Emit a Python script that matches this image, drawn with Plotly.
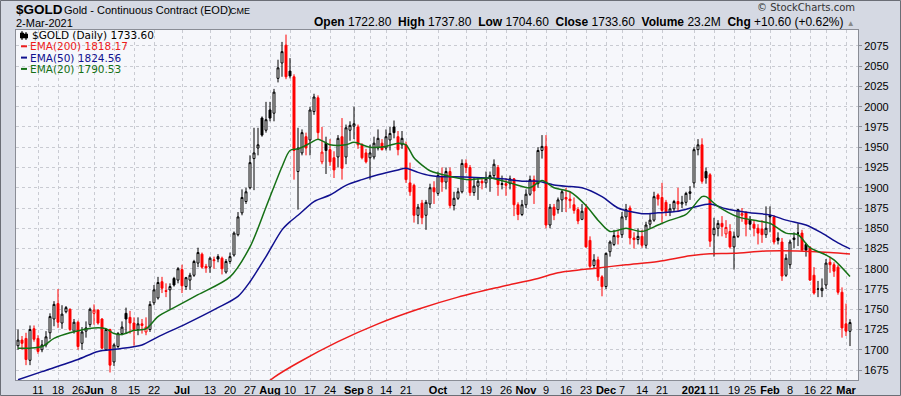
import plotly.graph_objects as go
import pandas as pd

# ---------------- data ----------------
holidays = ["2020-05-25", "2020-07-03", "2020-09-07", "2020-11-26", "2020-12-25",
            "2021-01-01", "2021-01-18", "2021-02-15"]
dates = [d.strftime("%Y-%m-%d") for d in pd.bdate_range("2020-05-04", "2021-03-02")
         if d.strftime("%Y-%m-%d") not in holidays]

open_ = [
    # May
    1705, 1712, 1714, 1687, 1726, 1714, 1700, 1706, 1721, 1738, 1757, 1733, 1747, 1750, 1723, 1734, 1708, 1723, 1731,
    # Jun
    1745, 1749, 1738, 1700, 1725, 1685, 1704, 1720, 1745, 1740, 1733, 1725, 1732, 1722, 1725, 1758, 1764, 1784, 1773, 1774, 1788, 1786,
    # Jul
    1799, 1778, 1786, 1792, 1807, 1818, 1803, 1802, 1810, 1815, 1813, 1796, 1809, 1817, 1842, 1869, 1883, 1900, 1936, 1949, 1986, 1971,
    # Aug
    1996, 1992, 2035, 2054, 2076, 2044, 2037, 1920, 1943, 1963, 1959, 1994, 2011, 1932, 1955, 1947, 1937, 1938, 1963, 1938, 1971,
    # Sep
    1976, 1975, 1953, 1943, 1937, 1938, 1949, 1955, 1949, 1959, 1975, 1963, 1953, 1953, 1906, 1903, 1866, 1881, 1866, 1880, 1900,
    # Oct
    1893, 1914, 1907, 1920, 1878, 1887, 1895, 1930, 1925, 1894, 1902, 1908, 1906, 1911, 1915, 1925, 1904, 1905, 1905, 1911, 1879, 1867,
    # Nov
    1879, 1892, 1910, 1905, 1946, 1951, 1854, 1876, 1873, 1885, 1888, 1886, 1879, 1873, 1861, 1875, 1835, 1804, 1811, 1790,
    # Dec
    1778, 1821, 1830, 1841, 1842, 1864, 1875, 1838, 1836, 1840, 1829, 1855, 1860, 1891, 1888, 1882, 1870, 1874, 1883, 1880, 1882, 1893,
    # Jan
    1906, 1947, 1953, 1920, 1916, 1842, 1850, 1856, 1843, 1846, 1827, 1840, 1866, 1870, 1860, 1855, 1850, 1849, 1842,
    # Feb
    1866, 1864, 1838, 1833, 1792, 1805, 1836, 1844, 1844, 1830, 1826, 1792, 1775, 1773, 1780, 1808, 1805, 1802, 1771,
    # Mar
    1732, 1722.8,
]
high = [
    1725, 1717, 1721, 1730, 1730, 1718, 1712, 1723, 1745, 1760, 1775, 1755, 1754, 1751, 1738, 1736, 1728, 1735, 1752,
    1756, 1750, 1739, 1726, 1726, 1708, 1722, 1735, 1752, 1748, 1740, 1740, 1738, 1740, 1760, 1780, 1790, 1790, 1782, 1782, 1790, 1802,
    1805, 1790, 1795, 1811, 1826, 1820, 1806, 1815, 1815, 1818, 1815, 1812, 1820, 1846, 1870, 1898, 1900, 1940, 1974, 1974, 1988, 2006,
    2006, 2022, 2058, 2080, 2089, 2060, 2040, 1974, 1972, 1968, 2000, 2016, 2014, 1975, 1963, 1960, 1945, 1965, 1986, 1978, 1982,
    2000, 1978, 1955, 1948, 1953, 1963, 1972, 1960, 1972, 1975, 1983, 1970, 1970, 1957, 1931, 1905, 1880, 1885, 1885, 1905, 1908,
    1920, 1925, 1925, 1925, 1895, 1900, 1935, 1935, 1928, 1912, 1912, 1912, 1920, 1920, 1935, 1928, 1915, 1912, 1915, 1912, 1882, 1885,
    1898, 1915, 1915, 1950, 1965, 1965, 1880, 1880, 1888, 1898, 1900, 1895, 1888, 1876, 1880, 1880, 1840, 1818, 1815, 1792,
    1820, 1835, 1848, 1848, 1870, 1880, 1878, 1845, 1850, 1848, 1858, 1868, 1895, 1893, 1906, 1885, 1880, 1885, 1900, 1890, 1895, 1902,
    1950, 1960, 1961, 1925, 1918, 1863, 1860, 1865, 1860, 1855, 1846, 1873, 1875, 1870, 1865, 1860, 1855, 1860, 1877,
    1877, 1866, 1845, 1838, 1818, 1836, 1845, 1856, 1848, 1832, 1828, 1802, 1785, 1788, 1812, 1815, 1808, 1805, 1777,
    1757, 1737.8,
]
low = [
    1700, 1700, 1681, 1681, 1710, 1695, 1697, 1703, 1713, 1729, 1727, 1726, 1745, 1723, 1720, 1700, 1700, 1715, 1728,
    1731, 1731, 1701, 1700, 1672, 1680, 1702, 1718, 1720, 1720, 1705, 1718, 1720, 1718, 1722, 1755, 1762, 1770, 1765, 1750, 1778, 1782,
    1770, 1774, 1774, 1790, 1802, 1800, 1795, 1795, 1800, 1808, 1793, 1794, 1806, 1815, 1840, 1866, 1880, 1898, 1897, 1940, 1963, 1968,
    1982, 1982, 2030, 2037, 2034, 2035, 1910, 1873, 1940, 1940, 1940, 1990, 1960, 1929, 1917, 1927, 1912, 1925, 1910, 1929, 1958,
    1960, 1948, 1935, 1930, 1910, 1935, 1946, 1946, 1946, 1946, 1961, 1940, 1948, 1906, 1890, 1857, 1855, 1855, 1848, 1875, 1880,
    1890, 1895, 1898, 1875, 1872, 1885, 1893, 1918, 1890, 1890, 1885, 1898, 1900, 1895, 1912, 1890, 1898, 1890, 1898, 1865, 1860, 1865,
    1875, 1890, 1880, 1900, 1936, 1850, 1850, 1860, 1868, 1870, 1870, 1875, 1868, 1855, 1860, 1826, 1800, 1800, 1785, 1766,
    1775, 1815, 1828, 1830, 1838, 1860, 1830, 1825, 1830, 1826, 1825, 1850, 1858, 1878, 1857, 1865, 1865, 1870, 1870, 1875, 1878, 1885,
    1900, 1940, 1905, 1905, 1827, 1815, 1840, 1840, 1838, 1825, 1799, 1838, 1858, 1840, 1848, 1840, 1830, 1832, 1838,
    1845, 1830, 1830, 1785, 1790, 1800, 1825, 1828, 1822, 1815, 1785, 1768, 1765, 1765, 1775, 1795, 1790, 1768, 1715,
    1717, 1704.6,
]
close = [
    1712, 1708, 1688, 1725, 1713, 1698, 1706, 1716, 1741, 1756, 1734, 1744, 1752, 1725, 1734, 1704, 1722, 1727, 1750,
    1749, 1733, 1702, 1725, 1681, 1706, 1720, 1728, 1738, 1733, 1725, 1732, 1730, 1728, 1756, 1774, 1783, 1776, 1772, 1778, 1780, 1800,
    1779, 1789, 1792, 1809, 1820, 1802, 1801, 1813, 1811, 1812, 1800, 1809, 1815, 1844, 1864, 1888, 1895, 1931, 1943, 1953, 1965, 1984,
    1986, 2018, 2048, 2068, 2037, 2038, 1946, 1949, 1968, 1949, 1996, 2012, 1968, 1944, 1946, 1932, 1922, 1961, 1924, 1974, 1977,
    1979, 1953, 1937, 1932, 1943, 1955, 1961, 1947, 1963, 1967, 1968, 1947, 1961, 1910, 1895, 1866, 1876, 1863, 1882, 1900, 1895,
    1915, 1907, 1920, 1878, 1887, 1895, 1930, 1925, 1894, 1902, 1908, 1906, 1911, 1915, 1929, 1904, 1905, 1903, 1911, 1879, 1867, 1879,
    1892, 1910, 1896, 1946, 1951, 1854, 1876, 1866, 1885, 1895, 1886, 1884, 1872, 1859, 1871, 1827, 1803, 1811, 1790, 1778,
    1819, 1833, 1841, 1839, 1864, 1873, 1838, 1836, 1840, 1829, 1854, 1860, 1889, 1886, 1872, 1870, 1874, 1883, 1880, 1882, 1893, 1895,
    1947, 1953, 1908, 1912, 1834, 1850, 1856, 1852, 1851, 1827, 1840, 1873, 1868, 1855, 1855, 1850, 1844, 1842, 1850,
    1864, 1833, 1835, 1791, 1813, 1833, 1838, 1844, 1823, 1823, 1786, 1770, 1775, 1776, 1807, 1805, 1797, 1771, 1727,
    1723, 1733.6,
]

ema20_dates = ["2020-05-04", "2020-05-07", "2020-05-12", "2020-05-15", "2020-05-21", "2020-06-01", "2020-06-04",
               "2020-06-08", "2020-06-10", "2020-06-15", "2020-06-18", "2020-06-23", "2020-06-29", "2020-07-08",
               "2020-07-20", "2020-07-27", "2020-07-31", "2020-08-06", "2020-08-10", "2020-08-12", "2020-08-17",
               "2020-08-19", "2020-08-24", "2020-08-28", "2020-09-01", "2020-09-08", "2020-09-14", "2020-09-17",
               "2020-09-21", "2020-09-23", "2020-09-25", "2020-09-29", "2020-10-06", "2020-10-13", "2020-10-20",
               "2020-10-27", "2020-11-03", "2020-11-06", "2020-11-11", "2020-11-17", "2020-11-23", "2020-11-27",
               "2020-12-02", "2020-12-08", "2020-12-14", "2020-12-18", "2020-12-23", "2020-12-30", "2021-01-06",
               "2021-01-07", "2021-01-12", "2021-01-20", "2021-01-27", "2021-02-01", "2021-02-05", "2021-02-10",
               "2021-02-16", "2021-02-22", "2021-02-24", "2021-03-02"]
ema20 = [1702, 1702, 1704, 1714, 1721, 1727, 1726, 1720, 1719, 1724, 1726, 1741, 1752, 1768,
         1790, 1827, 1876, 1926, 1946, 1948, 1955, 1960, 1953, 1953, 1956, 1950, 1951, 1955,
         1953, 1937, 1928, 1921, 1914, 1910, 1912, 1906, 1900, 1909, 1900, 1895, 1878, 1860,
         1846, 1850, 1846, 1854, 1860, 1867, 1889, 1889, 1877, 1864, 1859, 1856, 1844, 1842,
         1826, 1817, 1811, 1790.53]

ema50_dates = ["2020-05-04", "2020-05-12", "2020-05-26", "2020-06-02", "2020-06-09", "2020-06-17", "2020-06-23",
               "2020-07-02", "2020-07-15", "2020-07-22", "2020-07-27", "2020-07-31", "2020-08-06", "2020-08-10",
               "2020-08-12", "2020-08-18", "2020-08-24", "2020-08-28", "2020-09-03", "2020-09-10", "2020-09-17",
               "2020-09-21", "2020-09-24", "2020-09-29", "2020-10-01", "2020-10-13", "2020-10-23", "2020-10-30",
               "2020-11-05", "2020-11-11", "2020-11-17", "2020-11-20", "2020-11-30", "2020-12-04", "2020-12-14",
               "2020-12-18", "2020-12-28", "2021-01-04", "2021-01-08", "2021-01-14", "2021-01-25", "2021-02-01",
               "2021-02-05", "2021-02-12", "2021-02-19", "2021-02-25", "2021-03-02"]
ema50 = [1663, 1673, 1688, 1698, 1701, 1706, 1716, 1732, 1752, 1766, 1784, 1815, 1848, 1858,
         1866, 1883, 1891, 1903, 1910, 1916, 1922, 1924, 1919, 1915, 1914, 1913, 1911, 1908,
         1908, 1903.5, 1901.5, 1900, 1889, 1875, 1868, 1869, 1871, 1876, 1880, 1874, 1869, 1866.5,
         1860, 1854, 1844, 1832, 1824.56]

ema200_dates = ["2020-07-29", "2020-08-04", "2020-08-12", "2020-08-26", "2020-09-10", "2020-09-24", "2020-10-08",
                "2020-10-22", "2020-11-05", "2020-11-12", "2020-11-27", "2020-12-08", "2020-12-18", "2020-12-31",
                "2021-01-08", "2021-01-19", "2021-01-29", "2021-02-10", "2021-02-23", "2021-03-02"]
ema200 = [1650, 1666, 1684, 1710, 1732, 1750, 1765, 1777, 1788, 1795, 1801, 1805, 1809, 1816,
          1818.6, 1819, 1822, 1822, 1820, 1818.17]

tick_dates = ["2020-05-11", "2020-05-18", "2020-05-26", "2020-06-01", "2020-06-08", "2020-06-15", "2020-06-22",
              "2020-07-01", "2020-07-13", "2020-07-20", "2020-07-27", "2020-08-03", "2020-08-10", "2020-08-17",
              "2020-08-24", "2020-09-01", "2020-09-08", "2020-09-14", "2020-09-21", "2020-10-01", "2020-10-12",
              "2020-10-19", "2020-10-26", "2020-11-02", "2020-11-09", "2020-11-16", "2020-11-23", "2020-12-01",
              "2020-12-07", "2020-12-14", "2020-12-21", "2021-01-04", "2021-01-11", "2021-01-19", "2021-01-25",
              "2021-02-01", "2021-02-08", "2021-02-16", "2021-02-22", "2021-03-01"]
tick_labels = ["11", "18", "26", "<b>Jun</b>", "8", "15", "22", "<b>Jul</b>", "13", "20", "27", "<b>Aug</b>",
               "10", "17", "24", "<b>Sep</b>", "8", "14", "21", "<b>Oct</b>", "12", "19", "26", "<b>Nov</b>",
               "9", "16", "23", "<b>Dec</b>", "7", "14", "21", "<b>2021</b>", "11", "19", "25", "<b>Feb</b>",
               "8", "16", "22", "<b>Mar</b>"]
y_ticks = [1675, 1700, 1725, 1750, 1775, 1800, 1825, 1850, 1875, 1900, 1925, 1950, 1975, 2000, 2025, 2050, 2075]

# ---------------- figure ----------------
pos = {d: i for i, d in enumerate(dates)}
n = len(dates)
xi = list(range(n))

RED = "#ff0000"
BLK = "#000000"

fig = go.Figure()

# candle groups: colour by change vs previous close, fill by close vs open
groups = {(True, True): [], (True, False): [], (False, True): [], (False, False): []}
for i in range(n):
    prev = close[i - 1] if i > 0 else open_[i]
    up = close[i] >= prev
    hollow = close[i] >= open_[i]
    groups[(up, hollow)].append(i)

for (up, hollow), ids in groups.items():
    if not ids:
        continue
    col = BLK if up else RED
    fill = "#ffffff" if hollow else col
    style = dict(line=dict(color=col, width=1), fillcolor=fill)
    fig.add_trace(go.Candlestick(
        x=[xi[i] for i in ids],
        open=[open_[i] for i in ids], high=[high[i] for i in ids],
        low=[low[i] for i in ids], close=[close[i] for i in ids],
        increasing=style, decreasing=style, whiskerwidth=0, hoverinfo="skip",
    ))

def add_line(dlist, vals, color):
    fig.add_trace(go.Scatter(x=[pos[d] for d in dlist], y=vals, mode="lines",
                             line=dict(color=color, width=1.5, shape="spline", smoothing=0.8),
                             hoverinfo="skip"))

add_line(ema200_dates, ema200, "#ee1c1c")
add_line(ema50_dates, ema50, "#10108f")
add_line(ema20_dates, ema20, "#157015")

L, R, T, B = 16, 858, 30, 380
def px(x):
    return (x - L) / (R - L)
def py(y):
    return (B - y) / (B - T)

grid = dict(showgrid=True, gridcolor="#c9cbd2", griddash="3px,3px", gridwidth=1)
fig.update_layout(
    width=901, height=396,
    margin=dict(l=L, r=901 - R, t=T, b=396 - B, autoexpand=False),
    paper_bgcolor="#d5d9e3", plot_bgcolor="#f6f7fb",
    showlegend=False,
    font=dict(family="Liberation Sans, Arial, sans-serif", color="#000", size=11),
    xaxis=dict(range=[-0.5, 210], tickvals=[pos[d] for d in tick_dates], ticktext=tick_labels,
               tickangle=0, automargin=False,
               ticks="", tickfont=dict(size=11), rangeslider=dict(visible=False),
               showline=True, linecolor="#8a8d96", linewidth=1, mirror=True, zeroline=False, **grid),
    yaxis=dict(range=[1662.7, 2094.7], side="right", tickvals=y_ticks, ticks="outside", ticklen=3,
               automargin=False, tickangle=0,
               tickcolor="#8a8d96", tickfont=dict(size=11), showline=True, linecolor="#8a8d96",
               linewidth=1, mirror=True, zeroline=False, **grid),
)

ann = []
def text(x, y, s, size=11, anchor="left", family="Liberation Sans, Arial, sans-serif", color="#000", pad=1):
    ann.append(dict(x=px(x), y=py(y), xref="paper", yref="paper", text=s, showarrow=False,
                    xanchor=anchor, yanchor="middle", borderpad=pad,
                    font=dict(size=size, family=family, color=color)))

text(14, 10, "<b>$GOLD</b>", size=13.5)
text(62, 10, "Gold - Continuous Contract (EOD)", size=11)
text(228, 10.5, "CME", size=9)
text(14, 23, "2-Mar-2021", size=11)
text(857, 8, "© StockCharts.com", size=10, anchor="right", family="DejaVu Sans, sans-serif", color="#333")
hdr = ("<b>Open</b> 1722.80  <b>High</b> 1737.80  <b>Low</b> 1704.60  <b>Close</b> 1733.60  "
       "<b>Volume</b> 23.2M  <b>Chg</b> +10.60 (+0.62%) <span style='font-size:8px;color:#888'>▲</span>")
text(857, 22, hdr, size=12, anchor="right")

mono = "DejaVu Sans, Verdana, sans-serif"
text(31, 35, "$GOLD (Daily) 1733.60", size=10.5, family=mono, pad=0)
text(29, 46.3, "EMA(200) 1818.17", size=10.5, family=mono, color="#ee1c1c", pad=0)
text(29, 57.6, "EMA(50) 1824.56", size=10.5, family=mono, color="#10108f", pad=0)
text(29, 68.9, "EMA(20) 1790.53", size=10.5, family=mono, color="#157015", pad=0)
fig.update_layout(annotations=ann)

shapes = []
for yy, c in [(46.3, "#ee1c1c"), (57.6, "#10108f"), (68.9, "#157015")]:
    shapes.append(dict(type="line", xref="paper", yref="paper", x0=px(21), x1=px(27), y0=py(yy), y1=py(yy),
                       line=dict(color=c, width=2)))
# small candle icon
for cx, y0, y1, b0, b1 in [(22, 31, 40, 33, 38), (26, 32, 40, 34, 38)]:
    shapes.append(dict(type="line", xref="paper", yref="paper", x0=px(cx), x1=px(cx), y0=py(y0), y1=py(y1),
                       line=dict(color="#000", width=1)))
    shapes.append(dict(type="rect", xref="paper", yref="paper", x0=px(cx - 1.5), x1=px(cx + 1.5),
                       y0=py(b0), y1=py(b1), line=dict(color="#000", width=1), fillcolor="#000"))
# outer frame
shapes.append(dict(type="rect", xref="paper", yref="paper", x0=px(0.5), x1=px(900.5), y0=py(0.5), y1=py(395.5),
                   line=dict(color="#6b6e76", width=1)))
fig.update_layout(shapes=shapes)

fig.write_html("out.html")
